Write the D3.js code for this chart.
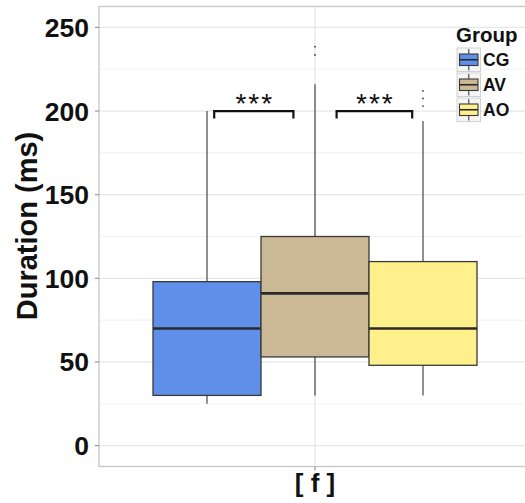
<!DOCTYPE html>
<html><head><meta charset="utf-8">
<script src="https://cdn.jsdelivr.net/npm/d3@7"></script>
<style>body{margin:0;background:#fff}svg{display:block}text{font-family:"Liberation Sans",Arial,sans-serif}</style>
</head><body><svg id="c" width="525" height="503"></svg>
<script>
const categories = ["[ f ]"];
const groups = ["CG", "AV", "AO"];
const colors = ["#5f8fe8", "#cbb894", "#fef18b"];
const whiskerLow = [25, 30, 30];
const q1 = [30, 53, 48];
const median = [70, 91, 70];
const q3 = [98, 125, 110];
const whiskerHigh = [200, 216, 194];
const outliers = [[], [233.5, 238.5], [203, 207.5, 212]];
const yTicks = [0, 50, 100, 150, 200, 250];
const yMinor = [25, 75, 125, 175, 225];
const brackets = [{x0: 0.72, x1: 0.94, y: 200, label: "***"}, {x0: 1.06, x1: 1.27, y: 200, label: "***"}];

const svg = d3.select("#c");
const L = 99, R = 531, T = 6.5, B = 466.5;
const y = d3.scaleLinear().domain([-12.5, 262.5]).range([B, T]);
const x = d3.scaleLinear().domain([0.4, 1.6]).range([L, R]);
const xd = d3.scaleBand().domain(groups).range([x(1 - 0.45), x(1 + 0.45)]);

// panel
svg.append("rect").attr("x", L).attr("y", T).attr("width", R - L).attr("height", B - T).attr("fill", "#fff");
yMinor.forEach(v => svg.append("line").attr("x1", L).attr("x2", R).attr("y1", y(v)).attr("y2", y(v)).attr("stroke", "#f3f3f3").attr("stroke-width", 1.2));
yTicks.forEach(v => svg.append("line").attr("x1", L).attr("x2", R).attr("y1", y(v)).attr("y2", y(v)).attr("stroke", "#e6e6e6").attr("stroke-width", 1.3));
svg.append("line").attr("x1", x(1)).attr("x2", x(1)).attr("y1", T).attr("y2", B).attr("stroke", "#e6e6e6").attr("stroke-width", 1.3);

// boxes
groups.forEach((g, i) => {
  const x0 = xd(g), w = xd.bandwidth(), cx = x0 + w / 2;
  const gg = svg.append("g");
  gg.append("line").attr("x1", cx).attr("x2", cx).attr("y1", y(whiskerHigh[i])).attr("y2", y(q3[i])).attr("stroke", "#555").attr("stroke-width", 1.3);
  gg.append("line").attr("x1", cx).attr("x2", cx).attr("y1", y(q1[i])).attr("y2", y(whiskerLow[i])).attr("stroke", "#555").attr("stroke-width", 1.3);
  gg.append("rect").attr("x", x0).attr("y", y(q3[i])).attr("width", w).attr("height", y(q1[i]) - y(q3[i]))
    .attr("fill", colors[i]).attr("stroke", "#3a3a3a").attr("stroke-width", 1.3);
  gg.append("line").attr("x1", x0).attr("x2", x0 + w).attr("y1", y(median[i])).attr("y2", y(median[i])).attr("stroke", "#2a2a2a").attr("stroke-width", 2.6);
  outliers[i].forEach(v => gg.append("circle").attr("cx", cx).attr("cy", y(v)).attr("r", 0.9).attr("fill", "#444"));
});

// brackets
brackets.forEach(b => {
  svg.append("path").attr("d", `M${x(b.x0)},${y(b.y) + 7.5}V${y(b.y)}H${x(b.x1)}V${y(b.y) + 7.5}`)
    .attr("fill", "none").attr("stroke", "#111").attr("stroke-width", 2.2);
  svg.append("text").attr("x", (x(b.x0) + x(b.x1)) / 2 + 1).attr("y", y(b.y) + 1.5).attr("text-anchor", "middle")
    .attr("font-size", 28).attr("letter-spacing", 2).attr("fill", "#111").text(b.label);
});

// border
svg.append("rect").attr("x", L).attr("y", T).attr("width", R - L).attr("height", B - T).attr("fill", "none").attr("stroke", "#c6c6c6").attr("stroke-width", 1.3);

// y axis
yTicks.forEach(v => {
  svg.append("line").attr("x1", L - 4).attr("x2", L).attr("y1", y(v)).attr("y2", y(v)).attr("stroke", "#999").attr("stroke-width", 1.2);
  svg.append("text").attr("x", 89).attr("y", y(v)).attr("dy", "0.36em").attr("text-anchor", "end")
    .attr("font-size", 26.5).attr("font-weight", "bold").attr("fill", "#111").text(v);
});
// x axis
categories.forEach((c, i) => {
  svg.append("line").attr("x1", x(i + 1)).attr("x2", x(i + 1)).attr("y1", B).attr("y2", B + 4).attr("stroke", "#999").attr("stroke-width", 1.2);
  svg.append("text").attr("x", x(i + 1)).attr("y", 491.5).attr("text-anchor", "middle")
    .attr("font-size", 26).attr("font-weight", "bold").attr("fill", "#111").text(c);
});
svg.append("text").attr("transform", "translate(37,226) rotate(-90)").attr("text-anchor", "middle")
  .attr("font-size", 29).attr("font-weight", "bold").attr("fill", "#111").text("Duration (ms)");

// legend
svg.append("text").attr("x", 456).attr("y", 42).attr("font-size", 20.5).attr("font-weight", "bold").attr("fill", "#111").text("Group");
groups.forEach((g, i) => {
  const ky = 48 + i * 25, kx = 457, ks = 23.5;
  svg.append("rect").attr("x", kx).attr("y", ky).attr("width", ks).attr("height", ks).attr("fill", "#f5f5f5").attr("stroke", "#d2d2d2").attr("stroke-width", 1);
  const cx = kx + ks / 2;
  svg.append("line").attr("x1", cx).attr("x2", cx).attr("y1", ky + 1).attr("y2", ky + ks - 1).attr("stroke", "#555").attr("stroke-width", 1.2);
  svg.append("rect").attr("x", kx + 2.5).attr("y", ky + 6).attr("width", ks - 5).attr("height", ks - 12).attr("fill", colors[i]).attr("stroke", "#3a3a3a").attr("stroke-width", 1.1);
  svg.append("line").attr("x1", kx + 2.5).attr("x2", kx + ks - 2.5).attr("y1", ky + ks / 2).attr("y2", ky + ks / 2).attr("stroke", "#2a2a2a").attr("stroke-width", 1.6);
  svg.append("text").attr("x", 483).attr("y", ky + ks / 2 + 6.3).attr("font-size", 17.5).attr("font-weight", "bold").attr("fill", "#111").text(g);
});
</script></body></html>
